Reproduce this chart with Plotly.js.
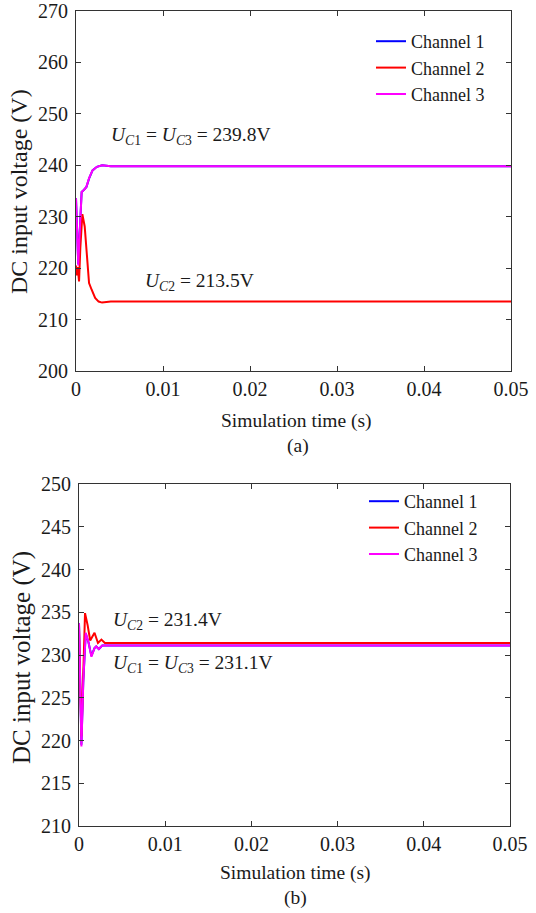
<!DOCTYPE html>
<html>
<head>
<meta charset="utf-8">
<script src="https://cdn.plot.ly/plotly-3.0.1.min.js"></script>
<style>
html,body{margin:0;padding:0;background:#fff;}
#chart{width:536px;height:913px;}
</style>
</head>
<body>
<div id="chart"></div>
<script>
// ---------- Data ----------
// Panel (a)
const timeA13 = [0, 0.0001, 0.00026, 0.0004, 0.00055, 0.00065, 0.0009, 0.0012, 0.0015, 0.0019, 0.0024, 0.003, 0.004, 0.01, 0.02, 0.03, 0.04, 0.05];
const ch1A = [233.6, 228.2, 220.8, 226.2, 234.0, 234.8, 235.2, 235.8, 237.4, 239.0, 239.7, 240.0, 239.8, 239.8, 239.8, 239.8, 239.8, 239.8];
const ch3A = [233.6, 228.0, 220.5, 226.0, 234.0, 234.8, 235.2, 235.8, 237.5, 239.0, 239.7, 240.0, 239.8, 239.8, 239.8, 239.8, 239.8, 239.8];
const timeA2 = [0, 0.0001, 0.0002, 0.00035, 0.0005, 0.00073, 0.001, 0.0013, 0.0015, 0.0018, 0.0022, 0.0026, 0.003, 0.004, 0.01, 0.02, 0.03, 0.04, 0.05];
const ch2A = [220.5, 218.6, 220.2, 217.4, 224.0, 230.5, 228.1, 221.6, 217.1, 215.8, 214.2, 213.5, 213.3, 213.5, 213.5, 213.5, 213.5, 213.5, 213.5];

// Panel (b)
const timeB13 = [0, 0.0001, 0.00028, 0.0005, 0.00078, 0.0011, 0.00144, 0.0018, 0.002, 0.0023, 0.0027, 0.0032, 0.01, 0.02, 0.03, 0.04, 0.05];
const ch1B = [233.7, 228.2, 219.5, 227.0, 232.5, 231.5, 229.9, 230.8, 231.0, 230.7, 231.1, 231.1, 231.1, 231.1, 231.1, 231.1, 231.1];
const ch3B = [233.7, 228.0, 219.3, 227.0, 232.6, 231.5, 229.8, 230.8, 231.0, 230.7, 231.1, 231.1, 231.1, 231.1, 231.1, 231.1, 231.1];
const timeB2 = [0, 0.0001, 0.00028, 0.0005, 0.0007, 0.001, 0.0013, 0.0018, 0.0022, 0.0026, 0.003, 0.01, 0.02, 0.03, 0.04, 0.05];
const ch2B = [233.5, 228.0, 220.5, 228.0, 234.9, 233.5, 231.7, 232.6, 231.4, 231.8, 231.4, 231.4, 231.4, 231.4, 231.4, 231.4];

const seriesNames = ['Channel 1', 'Channel 2', 'Channel 3'];
const seriesColors = ['#0000ff', '#ff0000', '#ff00ff'];

const xTicksVals = [0, 0.01, 0.02, 0.03, 0.04, 0.05];
const xTicksText = ['0', '0.01', '0.02', '0.03', '0.04', '0.05'];
const yTicksA = [200, 210, 220, 230, 240, 250, 260, 270];
const yTicksB = [210, 215, 220, 225, 230, 235, 240, 245, 250];

// ---------- Figure ----------
const W = 536, H = 913;
const px = v => v / W;
const py = v => 1 - v / H;
const FONT = '"Liberation Serif"';
const lw = 2;

function tr(x, y, i, xa, ya, lg, show) {
  return {
    x: x, y: y, type: 'scatter', mode: 'lines',
    name: seriesNames[i], line: {color: seriesColors[i], width: lw},
    xaxis: xa, yaxis: ya, legend: lg, showlegend: show
  };
}

const data = [
  tr(timeA13, ch1A, 0, 'x', 'y', 'legend', true),
  tr(timeA2, ch2A, 1, 'x', 'y', 'legend', true),
  tr(timeA13, ch3A, 2, 'x', 'y', 'legend', true),
  tr(timeB13, ch1B, 0, 'x2', 'y2', 'legend2', true),
  tr(timeB2, ch2B, 1, 'x2', 'y2', 'legend2', true),
  tr(timeB13, ch3B, 2, 'x2', 'y2', 'legend2', true)
];

function axisBase(extra) {
  return Object.assign({
    showline: true, mirror: 'ticks', linecolor: '#333333', linewidth: 1,
    ticks: 'inside', ticklen: 5, tickcolor: '#333333', tickwidth: 1,
    showgrid: false, zeroline: false,
    tickfont: {family: FONT, size: 20, color: '#1a1a1a'}
  }, extra);
}

const legendBase = {
  font: {family: FONT, size: 18, color: '#1a1a1a'},
  bgcolor: 'rgba(255,255,255,0)', borderwidth: 0,
  xanchor: 'left', yanchor: 'top', tracegroupgap: 0, itemwidth: 30
};

const annFont = {family: FONT, size: 19.5, color: '#1a1a1a'};
const U13a = '<i>U</i><sub><i>C</i>1</sub> = <i>U</i><sub><i>C</i>3</sub> = 239.8V';
const U2a = '<i>U</i><sub><i>C</i>2</sub> = 213.5V';
const U2b = '<i>U</i><sub><i>C</i>2</sub> = 231.4V';
const U13b = '<i>U</i><sub><i>C</i>1</sub> = <i>U</i><sub><i>C</i>3</sub> = 231.1V';

const layout = {
  width: W, height: H,
  margin: {l: 0, r: 0, t: 0, b: 0},
  paper_bgcolor: '#ffffff', plot_bgcolor: '#ffffff',
  font: {family: FONT},
  showlegend: true,
  xaxis: axisBase({domain: [px(76), px(511)], range: [0, 0.05], anchor: 'y',
    tickvals: xTicksVals, ticktext: xTicksText}),
  yaxis: axisBase({domain: [py(371), py(11)], range: [200, 270], anchor: 'x',
    tickvals: yTicksA, ticklabelstandoff: 3}),
  xaxis2: axisBase({domain: [px(79), px(510)], range: [0, 0.05], anchor: 'y2',
    tickvals: xTicksVals, ticktext: xTicksText}),
  yaxis2: axisBase({domain: [py(826), py(484)], range: [210, 250], anchor: 'x2',
    tickvals: yTicksB, ticklabelstandoff: 3}),
  legend: Object.assign({x: px(371), y: py(23)}, legendBase),
  legend2: Object.assign({x: px(364), y: py(483)}, legendBase),
  annotations: [
    {xref: 'x', yref: 'y', x: 0.0038, y: 245.6, text: U13a, showarrow: false, xanchor: 'left', yanchor: 'middle', font: annFont},
    {xref: 'x', yref: 'y', x: 0.0077, y: 217.4, text: U2a, showarrow: false, xanchor: 'left', yanchor: 'middle', font: annFont},
    {xref: 'x2', yref: 'y2', x: 0.0037, y: 234.0, text: U2b, showarrow: false, xanchor: 'left', yanchor: 'middle', font: annFont},
    {xref: 'x2', yref: 'y2', x: 0.0037, y: 229.0, text: U13b, showarrow: false, xanchor: 'left', yanchor: 'middle', font: annFont},
    {xref: 'paper', yref: 'paper', x: px(296), y: py(421), text: 'Simulation time (s)', showarrow: false, xanchor: 'center', yanchor: 'middle', font: annFont},
    {xref: 'paper', yref: 'paper', x: px(298), y: py(446), text: '(a)', showarrow: false, xanchor: 'center', yanchor: 'middle', font: annFont},
    {xref: 'paper', yref: 'paper', x: px(295), y: py(873), text: 'Simulation time (s)', showarrow: false, xanchor: 'center', yanchor: 'middle', font: annFont},
    {xref: 'paper', yref: 'paper', x: px(295), y: py(898), text: '(b)', showarrow: false, xanchor: 'center', yanchor: 'middle', font: annFont},
    {xref: 'paper', yref: 'paper', x: px(19), y: py(192), text: 'DC input voltage (V)', textangle: -90, showarrow: false, xanchor: 'center', yanchor: 'middle', font: {family: FONT, size: 24, color: '#1a1a1a'}},
    {xref: 'paper', yref: 'paper', x: px(22), y: py(658), text: 'DC input voltage (V)', textangle: -90, showarrow: false, xanchor: 'center', yanchor: 'middle', font: {family: FONT, size: 25, color: '#1a1a1a'}}
  ]
};

Plotly.newPlot('chart', data, layout, {displayModeBar: false, staticPlot: true});
</script>
</body>
</html>
